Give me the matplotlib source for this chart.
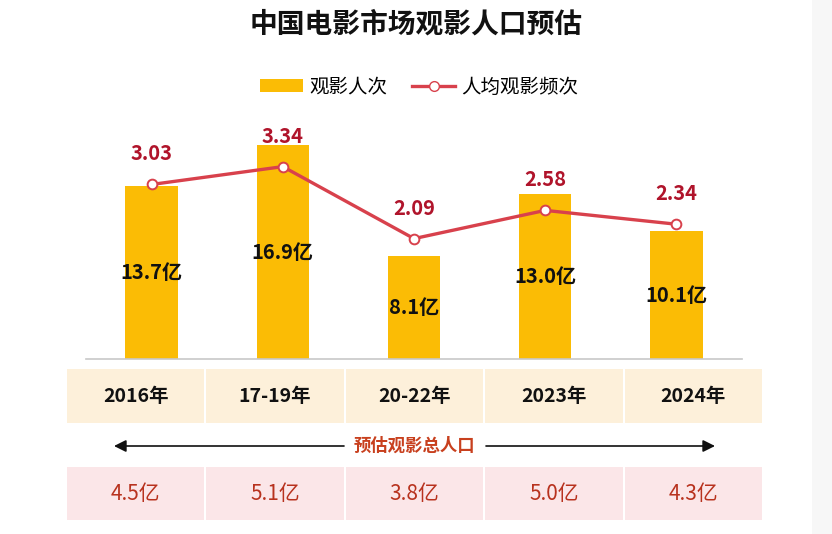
import numpy as np
import matplotlib
matplotlib.use('Agg')
import matplotlib.pyplot as plt
from matplotlib.patches import Rectangle, Patch
from matplotlib.lines import Line2D

plt.rcParams['font.family'] = ['Noto Sans CJK SC', 'DejaVu Sans']

# Data
periods = ['2016年', '17-19年', '20-22年', '2023年', '2024年']
admissions = [13.7, 16.9, 8.1, 13.0, 10.1]          # 观影人次 (亿)
frequency = [3.03, 3.34, 2.09, 2.58, 2.34]           # 人均观影频次
population = [4.5, 5.1, 3.8, 5.0, 4.3]              # 预估观影总人口 (亿)

W, H = 832, 534
fig = plt.figure(figsize=(W / 100, H / 100), dpi=100)
fig.patch.set_facecolor('white')

# Pixel-space overlay for table and decorations.
bg = fig.add_axes([0, 0, 1, 1])
bg.set_xlim(0, W)
bg.set_ylim(H, 0)
bg.axis('off')
bg.add_patch(Rectangle((812, 0), 20, H, color='#f7f7f7', lw=0))

# Main chart axes
left, right, base, top = 86, 742, 359, 110
ax = fig.add_axes([left / W, (H - base) / H, (right - left) / W, (base - top) / H])
ax.set_facecolor('none')
x = np.arange(len(periods))
bar_color = '#FBBC05'
red = '#D8414C'
ax.bar(x, admissions, width=0.4, color=bar_color, zorder=2)
ax.set_xlim(-0.5, len(periods) - 0.5)
ax.set_ylim(0, (base - top) / 12.66)
for xi, v in zip(x, admissions):
    ax.text(xi, v / 2, f'{v:.1f}亿', ha='center', va='center',
            fontsize=14.5, fontweight='bold', color='#111111', zorder=4)
for s in ['top', 'right', 'left']:
    ax.spines[s].set_visible(False)
ax.spines['bottom'].set_color('#c8c8c8')
ax.spines['bottom'].set_linewidth(1.2)
ax.set_xticks([])
ax.set_yticks([])

ax2 = ax.twinx()
ax2.set_ylim(0, (base - top) / 57.6)
ax2.plot(x, frequency, color=red, lw=2.4, marker='o', markersize=7,
         markerfacecolor='white', markeredgecolor=red, markeredgewidth=1.4, zorder=3)
for xi, v in zip(x, frequency):
    ax2.annotate(f'{v:.2f}', (xi, v), xytext=(0, 22), textcoords='offset points',
                 ha='center', va='center', fontsize=14.5, fontweight='bold',
                 color='#B0142B')
ax2.axis('off')

# Title and legend
fig.text(416 / W, 1 - 25 / H, '中国电影市场观影人口预估', ha='center', va='center',
         fontsize=20, fontweight='bold', color='#111111')
handles = [Patch(facecolor=bar_color, edgecolor='none'),
           Line2D([0], [0], color=red, lw=2.4, marker='o', markersize=7,
                  markerfacecolor='white', markeredgecolor=red)]
fig.legend(handles, ['观影人次', '人均观影频次'], loc='center',
           bbox_to_anchor=(419 / W, 1 - 87 / H), ncol=2, frameon=False,
           fontsize=14, handlelength=2.2, handleheight=0.6,
           handletextpad=0.3, columnspacing=1.3)

# Table below chart
col_left, col_w = 66, (763 - 66) / 5
for i, (p, pop) in enumerate(zip(periods, population)):
    cx = col_left + col_w * i
    bg.add_patch(Rectangle((cx + 1, 369), col_w - 2, 54, color='#FDF0DA', lw=0))
    bg.add_patch(Rectangle((cx + 1, 467), col_w - 2, 53, color='#FBE6E8', lw=0))
    bg.text(cx + col_w / 2, 397, p, ha='center', va='center',
            fontsize=14, fontweight='bold', color='#111111')
    bg.text(cx + col_w / 2, 494, f'{pop:.1f}亿', ha='center', va='center',
            fontsize=15, fontweight='medium', color='#B8321E')

bg.annotate('', xy=(114, 446), xytext=(344, 446),
            arrowprops=dict(arrowstyle='-|>', color='#111111', lw=1.2,
                            mutation_scale=18, shrinkA=0, shrinkB=0))
bg.annotate('', xy=(715, 446), xytext=(486, 446),
            arrowprops=dict(arrowstyle='-|>', color='#111111', lw=1.2,
                            mutation_scale=18, shrinkA=0, shrinkB=0))
bg.text(414, 446, '预估观影总人口', ha='center', va='center',
        fontsize=12.5, fontweight='bold', color='#C8401E')

fig.savefig('out.png', dpi=100)
